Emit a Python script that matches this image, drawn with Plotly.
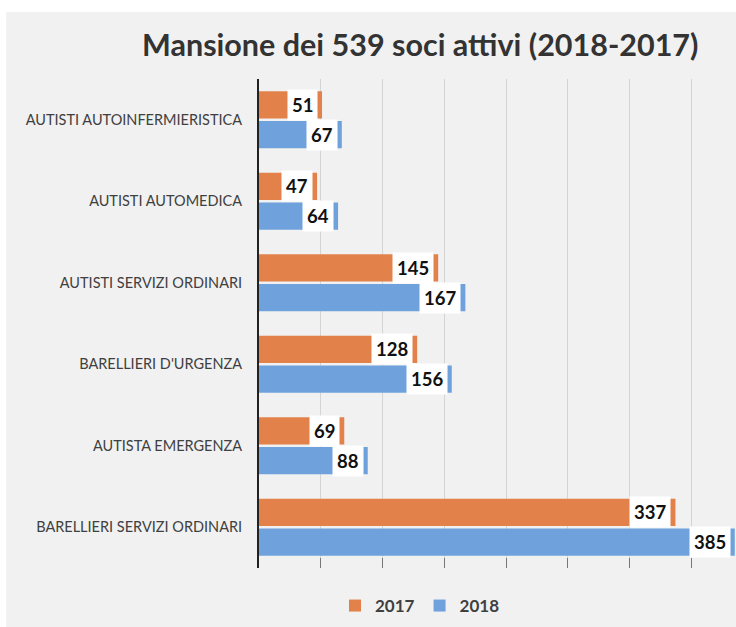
import plotly.graph_objects as go

# Data
categories = [
    'AUTISTI AUTOINFERMIERISTICA',
    'AUTISTI AUTOMEDICA',
    'AUTISTI SERVIZI ORDINARI',
    "BARELLIERI D'URGENZA",
    'AUTISTA EMERGENZA',
    'BARELLIERI SERVIZI ORDINARI',
]
soci_2017 = [51, 47, 145, 128, 69, 337]
soci_2018 = [67, 64, 167, 156, 88, 385]

COLORS = {
    '2017': '#E2824A',
    '2018': '#6FA2DC',
    'text': '#404040',
    'title': '#333333',
    'grid': '#D4D4D4',
    'bg': '#F1F1F1',
}

BARGAP = 0.27
GROUPGAP = 0.08
idx = list(range(len(categories)))
slot = (1 - BARGAP) / 2

fig = go.Figure()
fig.add_trace(go.Bar(
    y=idx, x=soci_2017, name='2017', orientation='h',
    marker_color=COLORS['2017'], marker_line_width=0,
))
fig.add_trace(go.Bar(
    y=idx, x=soci_2018, name='2018', orientation='h',
    marker_color=COLORS['2018'], marker_line_width=0,
))

# value labels: white boxes just inside the bar end
for series, offset in ((soci_2017, -slot / 2), (soci_2018, slot / 2)):
    for i, v in enumerate(series):
        fig.add_annotation(
            x=v, y=i + offset, text='<b>%d</b>' % v,
            xanchor='right', yanchor='middle', xshift=-4,
            showarrow=False, bgcolor='white', borderpad=4,
            font=dict(family='Lato, sans-serif', size=18.5, color='#111111'),
        )

# light backdrop like the original slide
fig.add_shape(
    type='rect', xref='paper', yref='paper', layer='below',
    x0=-0.53, x1=1.02, y0=-0.2, y1=1.137,
    fillcolor=COLORS['bg'], line_width=0,
)

fig.update_layout(
    width=736, height=627,
    margin=dict(l=259, r=0, t=79, b=59),
    paper_bgcolor='white',
    plot_bgcolor='rgba(0,0,0,0)',
    barmode='group', bargap=BARGAP, bargroupgap=GROUPGAP,
    font=dict(family='Lato, sans-serif', color=COLORS['text']),
    title=dict(
        text='Mansione dei 539 soci attivi (2018-2017)',
        x=0.571, xref='container', xanchor='center',
        y=1 - 45 / 627, yref='container', yanchor='middle',
        font=dict(family='Lato, sans-serif', size=30.5, color=COLORS['title'], weight='bold'),
    ),
    legend=dict(
        orientation='h', x=0.3375, xanchor='center',
        y=1 - 606 / 627, yref='container', yanchor='middle',
        font=dict(size=17, color=COLORS['text'], weight='bold'),
        bgcolor='rgba(0,0,0,0)', itemwidth=30,
    ),
    xaxis=dict(
        range=[0, 386], dtick=50, showticklabels=False,
        showgrid=True, gridcolor=COLORS['grid'], gridwidth=1,
        zeroline=False, showline=False,
        ticks='inside', ticklen=10, tickcolor='#777777',
    ),
    yaxis=dict(
        tickvals=idx, ticktext=categories,
        range=[len(categories) - 0.5, -0.5],
        showgrid=False, zeroline=False,
        showline=True, linecolor='#222222', linewidth=2,
        ticks='', ticklabelstandoff=12,
        tickfont=dict(size=14.5, color=COLORS['text']),
    ),
    showlegend=True,
)

fig.write_html('out.html', config={'displayModeBar': False},
               post_script="document.body.style.margin='0';")
